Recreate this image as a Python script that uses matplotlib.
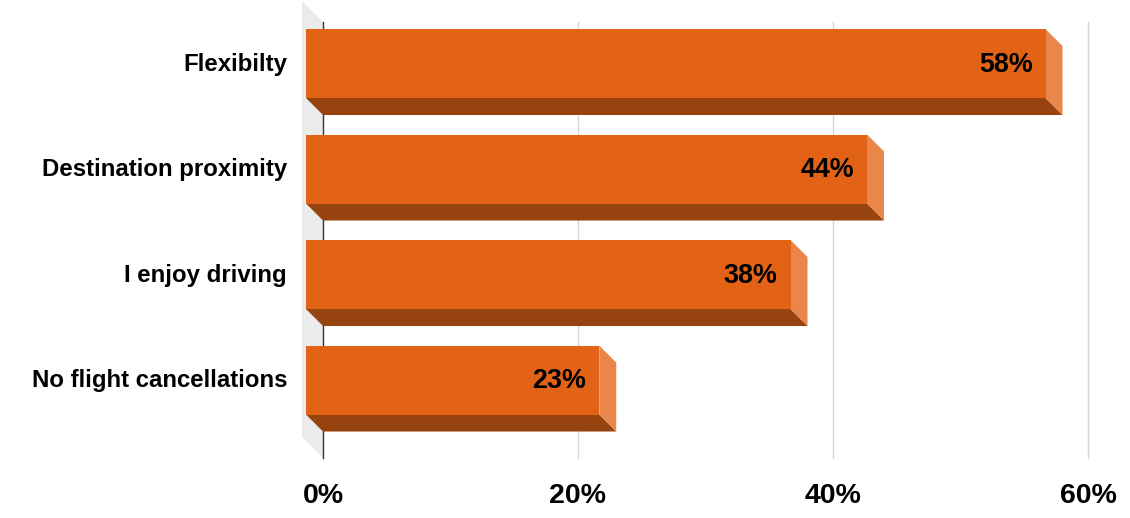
import matplotlib
matplotlib.use("Agg")
import matplotlib.pyplot as plt
from matplotlib import transforms
from matplotlib.patches import Polygon, Rectangle

# ---- data ----
categories = ["Flexibilty", "Destination proximity", "I enjoy driving", "No flight cancellations"]
values = [58, 44, 38, 23]
value_labels = ["58%", "44%", "38%", "23%"]
xticks = [0, 20, 40, 60]
xtick_labels = ["0%", "20%", "40%", "60%"]

# ---- style ----
FRONT = "#E26316"
BOTTOM = "#964310"
SIDE = "#EA864A"
WALL = "#EBEBEB"
GRID = "#D4D4D4"
AXIS = "#333333"
FONT = "Liberation Sans"

W, H, DPI = 1130, 518, 100
fig = plt.figure(figsize=(W / DPI, H / DPI), dpi=DPI)
fig.patch.set_facecolor("white")

# axes placed at the back plane of the 3D box
ax = fig.add_axes([323 / W, 1 - 458 / H, 765 / W, 436 / H])
ax.set_xlim(0, 60)
ax.set_ylim(3.578, -0.5545)
ax.set_facecolor("none")
for s in ax.spines.values():
    s.set_visible(False)
ax.set_yticks([])
ax.set_xticks(xticks)
ax.set_xticklabels(xtick_labels, fontsize=20.5, fontweight="bold", family=FONT)
ax.tick_params(axis="x", length=0, pad=18.3)

DEPTH = 17   # px, bar depth
WDEPTH = 21  # px, wall depth

def shift_data(px_dx, px_dy):
    """Convert a display pixel shift into a data-unit shift."""
    p0 = ax.transData.transform((0, 0))
    inv = ax.transData.inverted()
    q = inv.transform((p0[0] + px_dx, p0[1] + px_dy))
    return q[0], q[1]

fdx, fdy = shift_data(-DEPTH, DEPTH)
wdx, wdy = shift_data(-WDEPTH, WDEPTH)

ylo, yhi = ax.get_ylim()  # ylo = bottom, yhi = top
# left wall
wall = Polygon([(0, yhi), (0, ylo), (wdx, ylo + wdy), (wdx, yhi + wdy)],
               closed=True, facecolor=WALL, edgecolor="none", clip_on=False, zorder=0)
ax.add_patch(wall)

# grid lines and zero axis
for t in xticks[1:]:
    ax.axvline(t, color=GRID, lw=1, zorder=1, clip_on=False)
ax.axvline(0, color=AXIS, lw=1, zorder=1, clip_on=False)

half = 0.327
for i, v in enumerate(values):
    top = i - half
    bot = i + half
    # bottom face
    ax.add_patch(Polygon([(fdx, bot + fdy), (v + fdx, bot + fdy), (v, bot), (0, bot)],
                         closed=True, facecolor=BOTTOM, edgecolor="none",
                         clip_on=False, zorder=3))
    # side face
    ax.add_patch(Polygon([(v + fdx, top + fdy), (v, top), (v, bot), (v + fdx, bot + fdy)],
                         closed=True, facecolor=SIDE, edgecolor="none",
                         clip_on=False, zorder=3))
    # front face
    ax.add_patch(Rectangle((fdx, top + fdy), v, bot - top, facecolor=FRONT,
                           edgecolor="none", clip_on=False, zorder=4))

front_label_tr = transforms.offset_copy(ax.transData, fig=fig, x=-DEPTH - 13, y=DEPTH + 2, units="dots")
cat_tr = transforms.offset_copy(ax.transData, fig=fig, x=-36, y=DEPTH + 2, units="dots")

for i, (v, lab) in enumerate(zip(values, value_labels)):
    ax.text(v, i, lab, transform=front_label_tr, ha="right", va="center_baseline",
            fontsize=19.4, fontweight="bold", family=FONT, color="black", zorder=5)

for i, c in enumerate(categories):
    ax.text(0, i, c, transform=cat_tr, ha="right", va="center_baseline",
            fontsize=17.3, fontweight="bold", family=FONT, color="black", clip_on=False)

fig.savefig("out.png", dpi=DPI, facecolor="white")
